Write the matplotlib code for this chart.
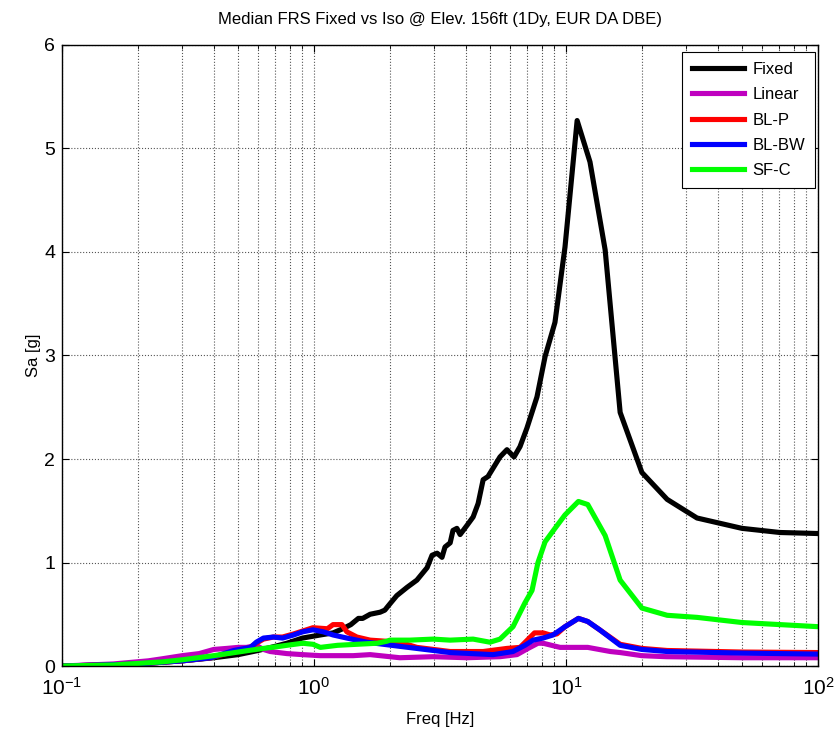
import matplotlib
matplotlib.use("Agg")
import matplotlib.pyplot as plt
from matplotlib.ticker import LogLocator, NullFormatter

plt.rcParams['font.family'] = ['Liberation Sans', 'DejaVu Sans']
plt.rcParams['mathtext.fontset'] = 'custom'
plt.rcParams['mathtext.rm'] = 'Liberation Sans'
plt.rcParams['mathtext.it'] = 'Liberation Sans'
plt.rcParams['mathtext.bf'] = 'Liberation Sans'
plt.rcParams['axes.unicode_minus'] = False

# Fixed base
f_fixed = [0.1, 0.15, 0.2, 0.3, 0.4, 0.5, 0.6, 0.7, 0.78, 0.9, 1.06, 1.19, 1.30, 1.40,
           1.50, 1.56, 1.67, 1.83, 1.91, 2.0, 2.13, 2.34, 2.56, 2.81, 2.94, 3.08, 3.22,
           3.31, 3.47, 3.56, 3.69, 3.80, 4.05, 4.28, 4.48, 4.69, 4.90, 5.47, 5.83, 6.22,
           6.57, 7.0, 7.67, 8.26, 9.04, 9.91, 11.07, 12.45, 14.3, 16.4, 20.0, 25.2,
           33.1, 49.9, 70.6, 100]
sa_fixed = [0.0, 0.01, 0.02, 0.05, 0.08, 0.11, 0.15, 0.19, 0.22, 0.27, 0.30, 0.32, 0.36, 0.40,
            0.46, 0.46, 0.50, 0.52, 0.54, 0.60, 0.68, 0.76, 0.83, 0.95, 1.07, 1.09, 1.05,
            1.15, 1.19, 1.31, 1.33, 1.27, 1.36, 1.44, 1.57, 1.80, 1.83, 2.02, 2.09, 2.02,
            2.12, 2.30, 2.60, 2.99, 3.32, 4.05, 5.27, 4.87, 4.02, 2.45, 1.87, 1.61,
            1.43, 1.33, 1.29, 1.28]

# Linear
f_lin = [0.1, 0.16, 0.22, 0.25, 0.30, 0.35, 0.40, 0.45, 0.50, 0.54, 0.59, 0.63, 0.67,
         0.78, 0.90, 1.06, 1.43, 1.67, 2.19, 2.97, 4.05, 5.47, 6.39, 7.07, 7.74, 8.11,
         9.47, 12.2, 15.0, 16.4, 20.0, 25.0, 50.0, 100]
sa_lin = [0.0, 0.02, 0.05, 0.07, 0.10, 0.12, 0.16, 0.17, 0.18, 0.18, 0.20, 0.16, 0.14,
          0.12, 0.11, 0.10, 0.10, 0.11, 0.08, 0.09, 0.08, 0.09, 0.11, 0.17, 0.22, 0.22,
          0.18, 0.18, 0.14, 0.13, 0.10, 0.09, 0.08, 0.08]

# BL-P
f_blp = [0.1, 0.2, 0.3, 0.39, 0.48, 0.56, 0.59, 0.63, 0.69, 0.75, 0.83, 0.99, 1.13, 1.19,
         1.29, 1.35, 1.48, 1.67, 2.19, 2.56, 3.47, 4.69, 5.83, 6.57, 7.5, 8.11, 8.64,
         9.2, 9.91, 11.2, 12.2, 13.6, 16.4, 20.0, 25.2, 50.0, 100]
sa_blp = [0.0, 0.02, 0.05, 0.08, 0.14, 0.18, 0.22, 0.26, 0.28, 0.28, 0.31, 0.37, 0.36, 0.40,
          0.40, 0.33, 0.28, 0.25, 0.23, 0.18, 0.14, 0.14, 0.17, 0.18, 0.32, 0.32, 0.30,
          0.31, 0.38, 0.46, 0.43, 0.35, 0.21, 0.17, 0.15, 0.135, 0.13]

# BL-BW
f_blbw = [0.1, 0.2, 0.3, 0.39, 0.48, 0.56, 0.59, 0.63, 0.69, 0.75, 0.83, 0.90, 0.99, 1.09,
          1.19, 1.35, 1.62, 2.19, 3.47, 5.13, 5.47, 6.16, 6.87, 7.40, 8.11, 8.88, 9.91,
          11.2, 12.2, 13.6, 16.4, 20.0, 25.2, 50.0, 100]
sa_blbw = [0.0, 0.02, 0.05, 0.08, 0.15, 0.18, 0.23, 0.27, 0.28, 0.27, 0.30, 0.33, 0.35, 0.33,
           0.30, 0.27, 0.23, 0.19, 0.13, 0.11, 0.12, 0.14, 0.20, 0.25, 0.27, 0.30, 0.38,
           0.46, 0.43, 0.35, 0.20, 0.16, 0.14, 0.125, 0.115]

# SF-C
f_sfc = [0.1, 0.16, 0.25, 0.30, 0.40, 0.55, 0.63, 0.73, 0.78, 0.90, 0.99, 1.06, 1.24,
         1.48, 1.78, 1.95, 2.0, 2.40, 2.97, 3.47, 4.28, 4.99, 5.47, 6.16, 6.87, 7.33,
         7.74, 8.26, 9.04, 9.91, 11.2, 12.2, 14.3, 16.4, 20.0, 25.2, 33.1, 50.0, 100]
sa_sfc = [0.0, 0.01, 0.04, 0.06, 0.10, 0.15, 0.17, 0.19, 0.20, 0.22, 0.21, 0.18, 0.20,
          0.21, 0.22, 0.24, 0.25, 0.25, 0.26, 0.25, 0.26, 0.23, 0.26, 0.38, 0.61, 0.73,
          1.00, 1.20, 1.33, 1.46, 1.59, 1.56, 1.26, 0.83, 0.56, 0.49, 0.47, 0.42, 0.38]

yticks = [0, 1, 2, 3, 4, 5, 6]

fig = plt.figure(figsize=(8.37, 7.29), dpi=100)
ax = fig.add_axes([0.0741, 0.0864, 0.9032, 0.8519])

lw = 3.7
ax.plot(f_fixed, sa_fixed, color='black', lw=lw, label='Fixed')
ax.plot(f_lin, sa_lin, color='#BF00BF', lw=lw, label='Linear')
ax.plot(f_blp, sa_blp, color='red', lw=lw, label='BL-P')
ax.plot(f_blbw, sa_blbw, color='blue', lw=lw, label='BL-BW')
ax.plot(f_sfc, sa_sfc, color='#00FF00', lw=lw, label='SF-C')

ax.set_xscale('log')
ax.set_xlim(0.1, 100)
ax.set_ylim(0, 6)
ax.set_yticks(yticks)
ax.xaxis.set_minor_locator(LogLocator(base=10, subs=range(2, 10)))
ax.xaxis.set_minor_formatter(NullFormatter())

ax.grid(True, which='major', color='#555555', linestyle=':', linewidth=0.8)
ax.grid(True, which='minor', axis='x', color='#555555', linestyle=':', linewidth=0.8)
ax.tick_params(which='both', direction='in', top=True, right=True)
ax.tick_params(axis='y', labelsize=14, pad=5)
ax.tick_params(axis='x', labelsize=15, pad=8)
ax.tick_params(which='major', length=5)
ax.tick_params(which='minor', length=3)
for s in ax.spines.values():
    s.set_linewidth(1.0)

ax.set_title('Median FRS Fixed vs Iso @ Elev. 156ft (1Dy, EUR DA DBE)', fontsize=12, pad=15)
ax.set_xlabel('Freq [Hz]', fontsize=12, labelpad=9)
ax.set_ylabel('Sa [g]', fontsize=12, labelpad=2)

leg = ax.legend(loc='upper right', bbox_to_anchor=(0.996, 0.9887), borderaxespad=0,
                fontsize=12, fancybox=False, framealpha=1, edgecolor='black',
                handlelength=3.1, handletextpad=0.5, labelspacing=0.62,
                borderpad=0.6)
leg.get_frame().set_linewidth(0.8)

fig.savefig('out.png', dpi=100)
